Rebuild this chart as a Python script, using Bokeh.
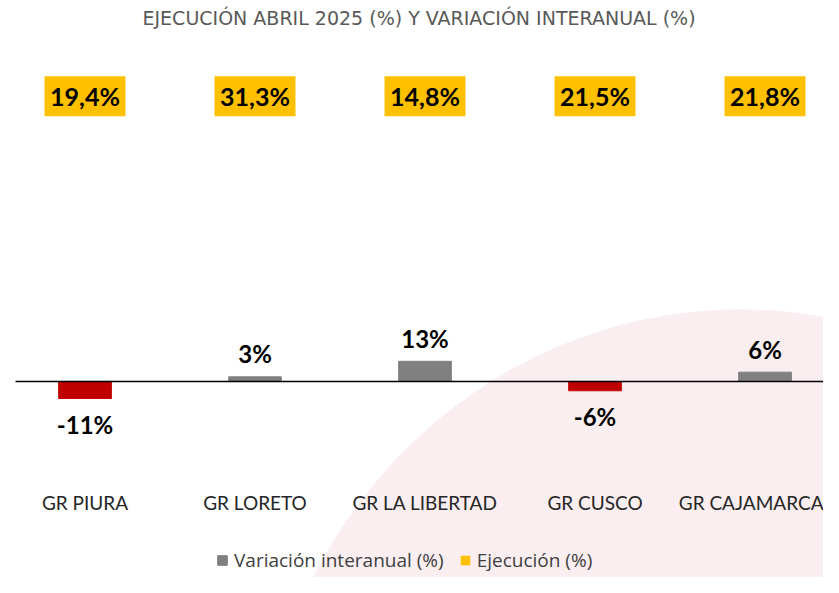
from bokeh.plotting import figure
from bokeh.models import (Range1d, LinearAxis, FixedTicker, ColumnDataSource,
                          Legend, LegendItem)
from bokeh.core.properties import value
from bokeh.embed import file_html
from bokeh.resources import INLINE

# ---------------- data ----------------
categories = ["GR PIURA", "GR LORETO", "GR LA LIBERTAD", "GR CUSCO", "GR CAJAMARCA"]
variacion = [-11, 3, 13, -6, 6]          # Variación interanual (%)
ejecucion = [19.4, 31.3, 14.8, 21.5, 21.8]  # Ejecución (%)

title_text = "EJECUCIÓN ABRIL 2025 (%) Y VARIACIÓN INTERANUAL (%)"
legend_var = "Variación interanual (%)"
legend_eje = "Ejecución (%)"

# ---------------- derived ----------------
idx = list(range(len(categories)))
var_labels = [f"{v:.0f}%" for v in variacion]
eje_labels = [f"{v:.1f}%".replace(".", ",") for v in ejecucion]
bar_colors = ["#C00000" if v < 0 else "#808080" for v in variacion]
lab_offsets = [26 if v < 0 else -23 for v in variacion]

EXEC_Y = 184.0  # row where execution boxes sit (data units)

src = ColumnDataSource(dict(x=idx, var=variacion, vlab=var_labels,
                            color=bar_colors, off=lab_offsets,
                            eje=ejecucion, elab=eje_labels,
                            ey=[EXEC_Y] * len(idx)))

W, H = 823, 577
TOP = 31
p = figure(width=W, height=H, output_backend="svg", toolbar_location=None,
           x_axis_location=None, y_axis_location=None,
           x_range=Range1d(-0.497, 4.344),
           y_range=Range1d(-126.5, (381 - TOP) / 1.55),
           min_border=0, min_border_top=TOP, min_border_bottom=0,
           min_border_left=0, min_border_right=0)
p.outline_line_color = None
p.grid.visible = False
p.background_fill_color = "white"
p.border_fill_color = "white"

p.title.text = title_text
p.title.align = "left"
p.title.offset = 142
p.title.text_font = "DejaVu Sans"
p.title.text_font_size = "19px"
p.title.text_font_style = "normal"
p.title.text_color = "#595959"
p.title.standoff = 6

# decorative pink background disc
p.ellipse(x=[3.856], y=[-273.5], width=962, height=992,
          width_units="screen", height_units="screen",
          fill_color="#FAEEF0", line_color=None)

# baseline axis with category labels
xax = LinearAxis(fixed_location=0, ticker=FixedTicker(ticks=idx),
                 major_label_overrides={i: c for i, c in zip(idx, categories)},
                 bounds=(-0.409, 4.6))
xax.major_tick_in = 0
xax.major_tick_out = 0
xax.minor_tick_in = 0
xax.minor_tick_out = 0
xax.axis_line_color = "#000000"
xax.axis_line_width = 1.5
xax.major_label_standoff = 110
xax.major_label_text_font = "Lato"
xax.major_label_text_font_size = "19px"
xax.major_label_text_color = "#262626"
p.add_layout(xax, "below")

bars = p.vbar(x="x", top="var", width=0.31, color="color", source=src)

p.text(x="x", y="var", text="vlab", y_offset="off", source=src,
       text_align="center", text_baseline="middle",
       text_font=value("Lato"), text_font_style="bold",
       text_font_size="24px", text_color="#000000")

boxes = p.rect(x="x", y="ey", width=81, height=40,
               width_units="screen", height_units="screen",
               fill_color="#FFC000", line_color=None, source=src)
p.text(x="x", y="ey", text="elab", source=src,
       text_align="center", text_baseline="middle",
       text_font=value("Lato"), text_font_style="bold",
       text_font_size="25px", text_color="#000000")

legend = Legend(items=[LegendItem(label=legend_var, renderers=[bars], index=1),
                       LegendItem(label=legend_eje, renderers=[boxes])],
                orientation="horizontal", location=(216, 4),
                padding=0, margin=0, spacing=15, label_standoff=6,
                glyph_width=12, glyph_height=12, label_height=14,
                border_line_color=None, background_fill_alpha=0,
                label_text_font="Open Sans", label_text_font_size="19px",
                label_text_color="#404040")
p.add_layout(legend, "center")

open("out.html", "w").write(file_html(p, INLINE))
